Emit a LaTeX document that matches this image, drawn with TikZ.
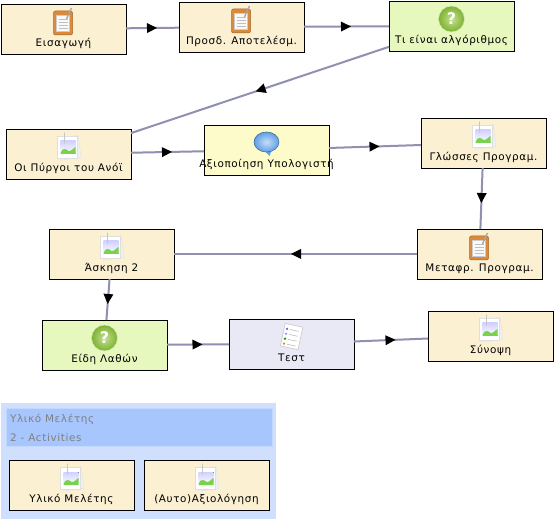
\documentclass[tikz,border=0pt]{standalone}
\usepackage{fontspec}
\setmainfont{DejaVu Sans}
\newfontfamily\lblfont[LetterSpace=6]{DejaVu Sans}
\usetikzlibrary{arrows.meta,decorations.markings,shadings}
\definecolor{cream}{HTML}{FBF0D2}
\definecolor{lime}{HTML}{E7F8BE}
\definecolor{paleyellow}{HTML}{FEFBCB}
\definecolor{lavender}{HTML}{E9E9F6}
\definecolor{flow}{HTML}{9090B0}
\definecolor{panelblue}{HTML}{CFDFFD}
\definecolor{headblue}{HTML}{A7C6FD}
\definecolor{headedge}{HTML}{C3D8FD}
\definecolor{qgreen}{HTML}{9CCF45}
\definecolor{qdark}{HTML}{7DB133}
\definecolor{clip}{HTML}{D98A3A}
\definecolor{bubble}{HTML}{5F9FE6}
\tikzset{
  x=1pt,y=-1pt,
  stepbox/.style={draw=black,line width=0.8pt,minimum width=125pt,minimum height=50pt,inner sep=0pt,outer sep=0pt},
  lbl/.style={font=\lblfont\fontsize{10.4}{11}\selectfont,text=black,inner sep=0pt,anchor=base},
  hdr/.style={font=\lblfont\fontsize{10.4}{11}\selectfont,text=gray,inner sep=0pt,anchor=base west},
  flowline/.style={draw=flow,line width=2pt,postaction={decorate},
    decoration={markings,mark=at position 0.5 with {\arrow[black,line width=0pt,xshift=4.5pt]{Triangle[length=10pt,width=10pt]}}}},
  pics/noteicon/.style={code={
    \draw[draw=clip!75!black,line width=.5pt,rounded corners=2pt,fill=clip] (-10,-11) rectangle (9,13);
    \draw[draw=gray!40,fill=white!95!gray,line width=.3pt] (-7,-7) rectangle (6,9);
    \draw[gray!50,line width=.4pt] (-5,-3)--(4,-3) (-5,0)--(4,0) (-5,3)--(4,3) (-5,6)--(4,6);
    \draw[gray!70,line width=1.3pt] (3,-3)--(8,-14);
  }},
  pics/photoicon/.style={code={
    \draw[draw=gray!25,fill=gray!12,line width=.3pt,rotate=8] (-10,-10) rectangle (11,12);
    \draw[draw=gray!25,fill=white,line width=.3pt] (-11,-11) rectangle (9,11);
    \fill[top color=blue!18,bottom color=white] (-8,-6) rectangle (7,7);
    \fill[green!50!olive!70] (-8,6) .. controls (-6,0) and (-2,2) .. (0,4) .. controls (2,5) and (5,1) .. (7,0) -- (7,7) -- (-8,7) -- cycle;
    \draw[gray!45,line width=1.2pt,line cap=round] (-4,-14)--(-4,-4);
  }},
  pics/qicon/.style={code={
    \shade[inner color=qgreen!60!white,outer color=qdark,draw=qgreen!40!white,line width=.5pt] (0,0) circle (13);
    \node[text=white,font=\bfseries\fontsize{16}{16}\selectfont,inner sep=0pt] (q) at (0,0) {?};
  }},
  pics/bubbleicon/.style={code={
    \fill[bubble] (-2,8) -- (3,13) -- (5,7) -- cycle;
    \shade[inner color=bubble!35!white,outer color=bubble,draw=bubble!70!black,line width=.6pt] (0,-1) ellipse (12.5 and 10);
  }},
  pics/testicon/.style={code={
    \begin{scope}[rotate=-12]
    \draw[draw=gray!40,fill=white,line width=.7pt] (-9,-12) rectangle (9,11);
    \foreach \yy/\cc in {-7/blue!60,-2/blue!40,3/green!60!black,8/orange}{
      \fill[\cc] (-6,\yy) circle (1.3);
      \draw[gray!60,line width=.5pt] (-3,\yy)--(6,\yy);}
    \end{scope}
  }},
}
% name, centre x, centre y, fill, icon, text
\newcommand{\stepnode}[6]{%
  \node[stepbox,fill=#4] (#1) at (#2,#3) {};
  \path (#1.center) ++(0,-7) pic {#5};
  \node[lbl] (#1-t) at ([yshift=-17.5pt]#1.center) {#6};
}
\begin{document}
\begin{tikzpicture}
\useasboundingbox (0,0) rectangle (558,524);
\fill[white] (0,0) rectangle (558,524);
% legend panel
\node[draw=none,fill=panelblue,minimum width=275pt,minimum height=116pt,inner sep=0pt] (panel) at (138,461) {};
\node[draw=headedge,line width=1pt,fill=headblue,minimum width=266pt,minimum height=38pt,inner sep=0pt] (head) at (139,428) {};
\node[hdr] (h1) at (10,422) {Υλικό Μελέτης};
\node[hdr] (h2) at (10,442) {2 - Activities};
% steps
\stepnode{a}{63.5}{29}{cream}{noteicon}{Εισαγωγή}
\stepnode{b}{241.5}{27}{cream}{noteicon}{Προσδ. Αποτελέσμ.}
\stepnode{c}{451.5}{26}{lime}{qicon}{Τι είναι αλγόριθμος}
\stepnode{d}{68.5}{154}{cream}{photoicon}{Οι Πύργοι του Ανόϊ}
\stepnode{e}{266.5}{150}{paleyellow}{bubbleicon}{Αξιοποίηση Υπολογιστή}
\stepnode{f}{483.5}{143}{cream}{photoicon}{Γλώσσες Προγραμ.}
\stepnode{g}{479.5}{254}{cream}{noteicon}{Μεταφρ. Προγραμ.}
\stepnode{h}{111.5}{254}{cream}{photoicon}{Άσκηση 2}
\stepnode{i}{104.5}{345}{lime}{qicon}{Είδη Λαθών}
\stepnode{j}{291.5}{344}{lavender}{testicon}{Τεστ}
\stepnode{k}{490.5}{336}{cream}{photoicon}{Σύνοψη}
\stepnode{l}{71.5}{485}{cream}{photoicon}{Υλικό Μελέτης}
\stepnode{m}{206.5}{485}{cream}{photoicon}{(Αυτο)Αξιολόγηση}
% connectors
\foreach \p/\q in {a/b,b/c,c/d,d/e,e/f,f/g,g/h,h/i,i/j,j/k}{
  \draw[flowline] (\p) -- (\q);
}
\end{tikzpicture}
\end{document}
